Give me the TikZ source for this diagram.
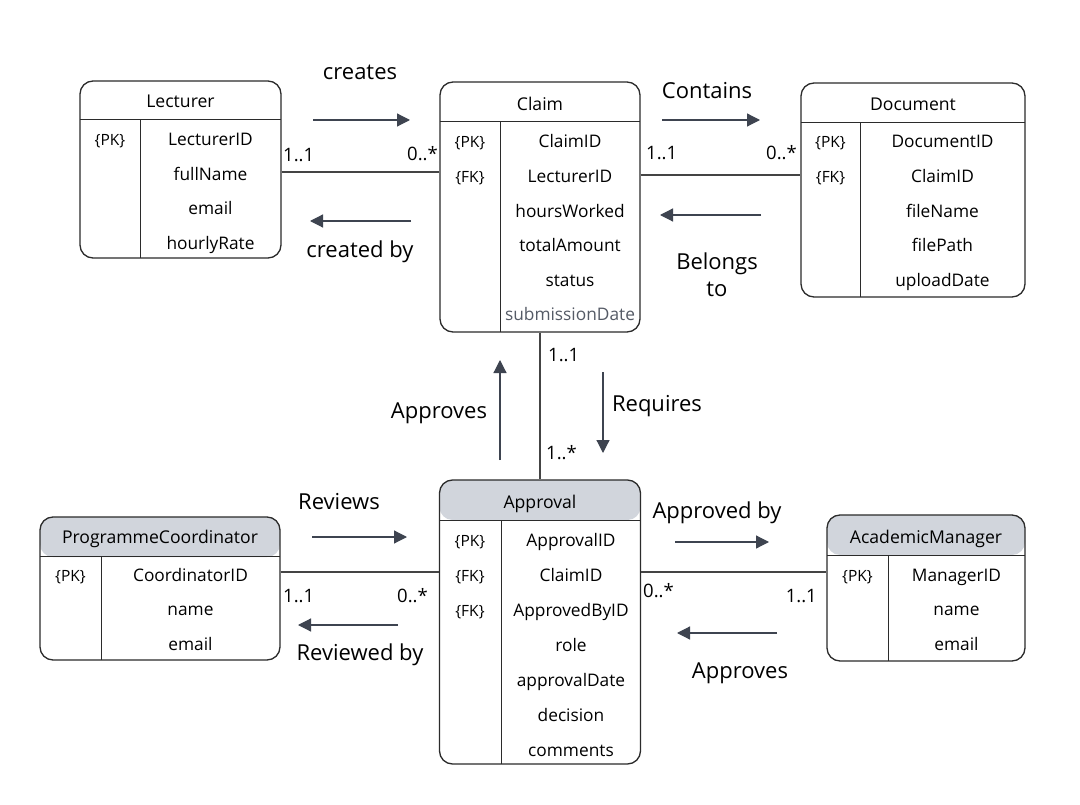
\documentclass[tikz,border=0pt]{standalone}
\usepackage{fontspec}
\setmainfont{Open Sans}
\usetikzlibrary{arrows.meta}
\definecolor{boxc}{HTML}{2B2B2B}
\definecolor{hdrc}{HTML}{D1D5DC}
\definecolor{arrc}{HTML}{3E4450}
\definecolor{linec}{HTML}{444444}
\definecolor{dimc}{HTML}{555B66}
\definecolor{txtc}{HTML}{000000}
\begin{document}
\begin{tikzpicture}[x=1pt,y=-1pt,
  tbl/.style={draw=boxc, line width=1.3pt, rounded corners=13pt, inner sep=0pt},
  hdrtbl/.style={tbl, path picture={\fill[hdrc] ([yshift=2pt]path picture bounding box.north west) rectangle ([yshift=-40pt]path picture bounding box.north east);}},
  sepline/.style={draw=boxc, line width=1pt},
  attr/.style={font=\fontsize{17.3}{19}\selectfont, text=txtc, anchor=base, inner sep=0pt},
  hdr/.style={font=\fontsize{17.6}{19}\selectfont, text=txtc, anchor=base, inner sep=0pt},
  key/.style={font=\fontsize{15.5}{17}\selectfont, text=txtc, anchor=base, inner sep=0pt},
  mult/.style={font=\fontsize{18.5}{20}\selectfont, text=txtc, inner sep=0pt},
  lbl/.style={font=\fontsize{22}{26}\selectfont, text=txtc, anchor=base, inner sep=0pt},
  rel/.style={draw=linec, line width=1.1pt},
  arr/.style={draw=arrc, line width=1.2pt, -{Triangle[length=13pt,width=13pt]}}
]
\fill[white] (0,0) rectangle (1080,805);
\useasboundingbox (0,0) rectangle (1080,805);

% ---------- Lecturer ----------
\node[tbl, minimum width=201pt, minimum height=177pt] (lect) at (180.5,169.5) {};
\draw[sepline] (80,120) -- (281,120);
\draw[sepline] (140,120) -- (140,258);
\node[hdr] (lectH) at (180.5,108) {Lecturer};
\node[key] (lectK1) at (110,146) {\{PK\}};
\node[attr] (lectA1) at (210.5,146) {LecturerID};
\node[attr] (lectA2) at (210.5,180.5) {fullName};
\node[attr] (lectA3) at (210.5,215) {email};
\node[attr] (lectA4) at (210.5,249.5) {hourlyRate};

% ---------- Claim ----------
\node[tbl, minimum width=200pt, minimum height=250pt] (claim) at (540,207) {};
\draw[sepline] (440,122) -- (640,122);
\draw[sepline] (500,122) -- (500,332);
\node[hdr] (claimH) at (540,111) {Claim};
\node[key] (claimK1) at (470,148) {\{PK\}};
\node[key] (claimK2) at (470,182.6) {\{FK\}};
\node[attr] (claimA1) at (570,148) {ClaimID};
\node[attr] (claimA2) at (570,182.6) {LecturerID};
\node[attr] (claimA3) at (570,217.2) {hoursWorked};
\node[attr] (claimA4) at (570,251.8) {totalAmount};
\node[attr] (claimA5) at (570,286.4) {status};
\node[attr, text=dimc] (claimA6) at (570,321) {submissionDate};

% ---------- Document ----------
\node[tbl, minimum width=224pt, minimum height=214pt] (doc) at (913,190) {};
\draw[sepline] (801,123) -- (1025,123);
\draw[sepline] (860,123) -- (860,297);
\node[hdr] (docH) at (913,111) {Document};
\node[key] (docK1) at (830.5,148) {\{PK\}};
\node[key] (docK2) at (830.5,182.6) {\{FK\}};
\node[attr] (docA1) at (942.5,148) {DocumentID};
\node[attr] (docA2) at (942.5,182.6) {ClaimID};
\node[attr] (docA3) at (942.5,217.2) {fileName};
\node[attr] (docA4) at (942.5,251.8) {filePath};
\node[attr] (docA5) at (942.5,286.4) {uploadDate};

% ---------- ProgrammeCoordinator ----------
\node[hdrtbl, minimum width=240pt, minimum height=143pt] (pc) at (160,588.5) {};
\draw[sepline] (40,556) -- (280,556);
\draw[sepline] (101,556) -- (101,660);
\node[hdr] (pcH) at (160,543) {ProgrammeCoordinator};
\node[key] (pcK1) at (70.5,581) {\{PK\}};
\node[attr] (pcA1) at (190.5,581) {CoordinatorID};
\node[attr] (pcA2) at (190.5,615.5) {name};
\node[attr] (pcA3) at (190.5,650) {email};

% ---------- Approval ----------
\node[hdrtbl, minimum width=201pt, minimum height=284pt] (appr) at (540,622) {};
\draw[sepline] (439.5,520) -- (640.5,520);
\draw[sepline] (501,520) -- (501,764);
\node[hdr] (apprH) at (540,508) {Approval};
\node[key] (apprK1) at (470,546) {\{PK\}};
\node[key] (apprK2) at (470,581) {\{FK\}};
\node[key] (apprK3) at (470,616) {\{FK\}};
\node[attr] (apprA1) at (571,546) {ApprovalID};
\node[attr] (apprA2) at (571,581) {ClaimID};
\node[attr] (apprA3) at (571,616) {ApprovedByID};
\node[attr] (apprA4) at (571,651) {role};
\node[attr] (apprA5) at (571,686) {approvalDate};
\node[attr] (apprA6) at (571,721) {decision};
\node[attr] (apprA7) at (571,756) {comments};

% ---------- AcademicManager ----------
\node[hdrtbl, minimum width=198pt, minimum height=146pt] (am) at (926,588) {};
\draw[sepline] (827,555) -- (1025,555);
\draw[sepline] (888,555) -- (888,661);
\node[hdr] (amH) at (926,543) {AcademicManager};
\node[key] (amK1) at (857.5,581) {\{PK\}};
\node[attr] (amA1) at (956.5,581) {ManagerID};
\node[attr] (amA2) at (956.5,615.5) {name};
\node[attr] (amA3) at (956.5,650) {email};

% ---------- relationship lines ----------
\draw[rel] (lect.east |- 0,172) -- (claim.west |- 0,172);
\draw[rel] (claim.east |- 0,175) -- (doc.west |- 0,175);
\draw[rel] (claim.south) -- (appr.north);
\draw[rel] (pc.east |- 0,572) -- (appr.west |- 0,572);
\draw[rel] (appr.east |- 0,572) -- (am.west |- 0,572);

% ---------- multiplicities ----------
\node[mult, anchor=base west] (m1) at (283,162) {1..1};
\node[mult, anchor=base east] (m2) at (438,161) {0..*};
\node[mult, anchor=base west] (m3) at (646,160) {1..1};
\node[mult, anchor=base east] (m4) at (797,160) {0..*};
\node[mult, anchor=base west] (m5) at (548,362) {1..1};
\node[mult, anchor=base west] (m6) at (546,459) {1..*};
\node[mult, anchor=base west] (m7) at (283,602) {1..1};
\node[mult, anchor=base east] (m8) at (428,602) {0..*};
\node[mult, anchor=base west] (m9) at (643,597) {0..*};
\node[mult, anchor=base east] (m10) at (817,602) {1..1};

% ---------- direction arrows ----------
\coordinate (a1s) at (313,120); \coordinate (a1e) at (410,120);
\coordinate (a2s) at (411,221); \coordinate (a2e) at (310,221);
\coordinate (a3s) at (662,120); \coordinate (a3e) at (760,120);
\coordinate (a4s) at (761,215); \coordinate (a4e) at (660,215);
\coordinate (a5s) at (500,460); \coordinate (a5e) at (500,360);
\coordinate (a6s) at (603,372); \coordinate (a6e) at (603,453);
\coordinate (a7s) at (312,537); \coordinate (a7e) at (407,537);
\coordinate (a8s) at (398,625); \coordinate (a8e) at (298,625);
\coordinate (a9s) at (675,542); \coordinate (a9e) at (769,542);
\coordinate (a10s) at (777,633); \coordinate (a10e) at (677,633);
\draw[arr] (a1s) -- (a1e);
\draw[arr] (a2s) -- (a2e);
\draw[arr] (a3s) -- (a3e);
\draw[arr] (a4s) -- (a4e);
\draw[arr] (a5s) -- (a5e);
\draw[arr] (a6s) -- (a6e);
\draw[arr] (a7s) -- (a7e);
\draw[arr] (a8s) -- (a8e);
\draw[arr] (a9s) -- (a9e);
\draw[arr] (a10s) -- (a10e);

% ---------- relationship labels ----------
\node[lbl] (l1) at (360,80) {creates};
\node[lbl] (l2) at (360,258) {created by};
\node[lbl] (l3) at (707,99) {Contains};
\node[lbl] (l4a) at (717,270) {Belongs};
\node[lbl] (l4b) at (717,297) {to};
\node[lbl] (l5) at (439,418) {Approves};
\node[lbl] (l6) at (657,411) {Requires};
\node[lbl] (l7) at (339,509) {Reviews};
\node[lbl] (l8) at (360,660) {Reviewed by};
\node[lbl] (l9) at (717,518) {Approved by};
\node[lbl] (l10) at (740,678) {Approves};
\end{tikzpicture}
\end{document}
